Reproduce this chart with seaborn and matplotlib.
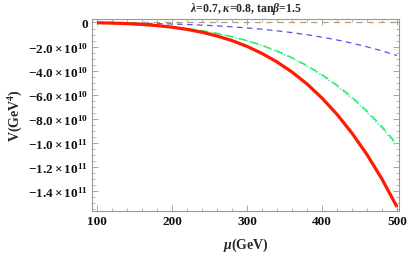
import matplotlib
matplotlib.use("Agg")
import matplotlib.pyplot as plt
import matplotlib.ticker as mticker
import numpy as np
import pandas as pd
import seaborn as sns

# mu in GeV
mu = [100, 120, 140, 160, 180, 200, 220, 240, 260, 280, 300,
      320, 340, 360, 380, 400, 420, 440, 460, 480, 500]
# V in units of 1e10 GeV^4
v_red = [-0.024, -0.05, -0.094, -0.16, -0.257, -0.39, -0.57, -0.81, -1.12, -1.50, -1.98,
         -2.57, -3.27, -4.11, -5.10, -6.27, -7.62, -9.18, -10.96, -12.99, -15.3]
v_green = [-0.048, -0.079, -0.122, -0.182, -0.264, -0.37, -0.509, -0.683, -0.902, -1.171, -1.5,
           -1.896, -2.366, -2.921, -3.571, -4.33, -5.20, -6.20, -7.34, -8.64, -10.1]
v_cyan = [-0.049, -0.080, -0.124, -0.185, -0.268, -0.376, -0.517, -0.693, -0.916, -1.189, -1.523,
          -1.925, -2.402, -2.965, -3.625, -4.395, -5.28, -6.29, -7.45, -8.77, -10.25]
v_blue = [-0.020, -0.031, -0.047, -0.066, -0.092, -0.125, -0.167, -0.218, -0.281, -0.358, -0.45,
          -0.559, -0.688, -0.839, -1.014, -1.216, -1.449, -1.715, -2.016, -2.357, -2.74]
v_brown = [0.0] * len(mu)

x_ticks = [100, 200, 300, 400, 500]
y_ticks = [0, -2e10, -4e10, -6e10, -8e10, -10e10, -12e10, -14e10]
y_labels = ["0", r"$\mathbf{-2.0\times10^{10}}$", r"$\mathbf{-4.0\times10^{10}}$",
            r"$\mathbf{-6.0\times10^{10}}$", r"$\mathbf{-8.0\times10^{10}}$",
            r"$\mathbf{-1.0\times10^{11}}$", r"$\mathbf{-1.2\times10^{11}}$",
            r"$\mathbf{-1.4\times10^{11}}$"]

SCALE = 1e10

sns.set_theme(style="ticks")
plt.rcParams['font.family'] = ['Liberation Serif', 'DejaVu Serif']
plt.rcParams['font.weight'] = 'bold'
plt.rcParams['mathtext.fontset'] = 'custom'
plt.rcParams['mathtext.rm'] = 'Liberation Serif:bold'
plt.rcParams['mathtext.it'] = 'Liberation Serif:italic:bold'
plt.rcParams['mathtext.bf'] = 'Liberation Serif:bold'

fig = plt.figure(figsize=(4.07, 2.55), dpi=100)
ax = fig.add_axes([92/407, 1-212/255, (399-92)/407, (212-20)/255])

df = pd.DataFrame({"mu": mu,
                   "red": np.array(v_red) * SCALE,
                   "green": np.array(v_green) * SCALE,
                   "cyan": np.array(v_cyan) * SCALE,
                   "blue": np.array(v_blue) * SCALE,
                   "brown": np.array(v_brown) * SCALE})

sns.lineplot(data=df, x="mu", y="brown", ax=ax, color="#b89a80", lw=0.9,
             linestyle=(0, (5, 4)))
sns.lineplot(data=df, x="mu", y="blue", ax=ax, color="#5555ee", lw=0.9,
             linestyle=(0, (4.5, 3.5)))
sns.lineplot(data=df, x="mu", y="cyan", ax=ax, color="#55eedd", lw=1.1,
             linestyle=(0, (1.2, 1.2)))
sns.lineplot(data=df, x="mu", y="green", ax=ax, color="#33ee55", lw=1.1,
             linestyle=(0, (5, 3.5)))
sns.lineplot(data=df, x="mu", y="red", ax=ax, color="#ff1a00", lw=2.3,
             solid_capstyle="butt", solid_joinstyle="round")

ax.set_xlim(93.3, 502.7)
ax.set_ylim(-15.64e10, 0.29e10)

ax.set_yticks(y_ticks)
ax.set_yticklabels(y_labels)
ax.set_xticks(x_ticks)
ax.xaxis.set_minor_locator(mticker.MultipleLocator(20))
ax.yaxis.set_minor_locator(mticker.MultipleLocator(0.5e10))

ax.tick_params(which="both", direction="in", top=True, right=True,
               color="#999999", labelsize=9.5, pad=3, labelcolor="#111111")
ax.tick_params(which="major", length=4, width=0.6)
ax.tick_params(which="minor", length=2, width=0.5)
for lab in ax.get_xticklabels() + ax.get_yticklabels():
    lab.set_fontweight("bold")
for s in ax.spines.values():
    s.set_color("#999999")
    s.set_linewidth(0.8)

ax.set_xlabel(r"$\mu$(GeV)", fontsize=10, fontweight="bold", labelpad=6)
ax.set_ylabel(r"V(GeV$^{\mathbf{4}}$)", fontsize=10, fontweight="bold", labelpad=2)
ax.set_title(r"$\lambda$=0.7, $\kappa$=0.8, tan$\beta$=1.5", fontsize=8.5,
             fontweight="bold", pad=6)

fig.savefig("out.png", dpi=100)
